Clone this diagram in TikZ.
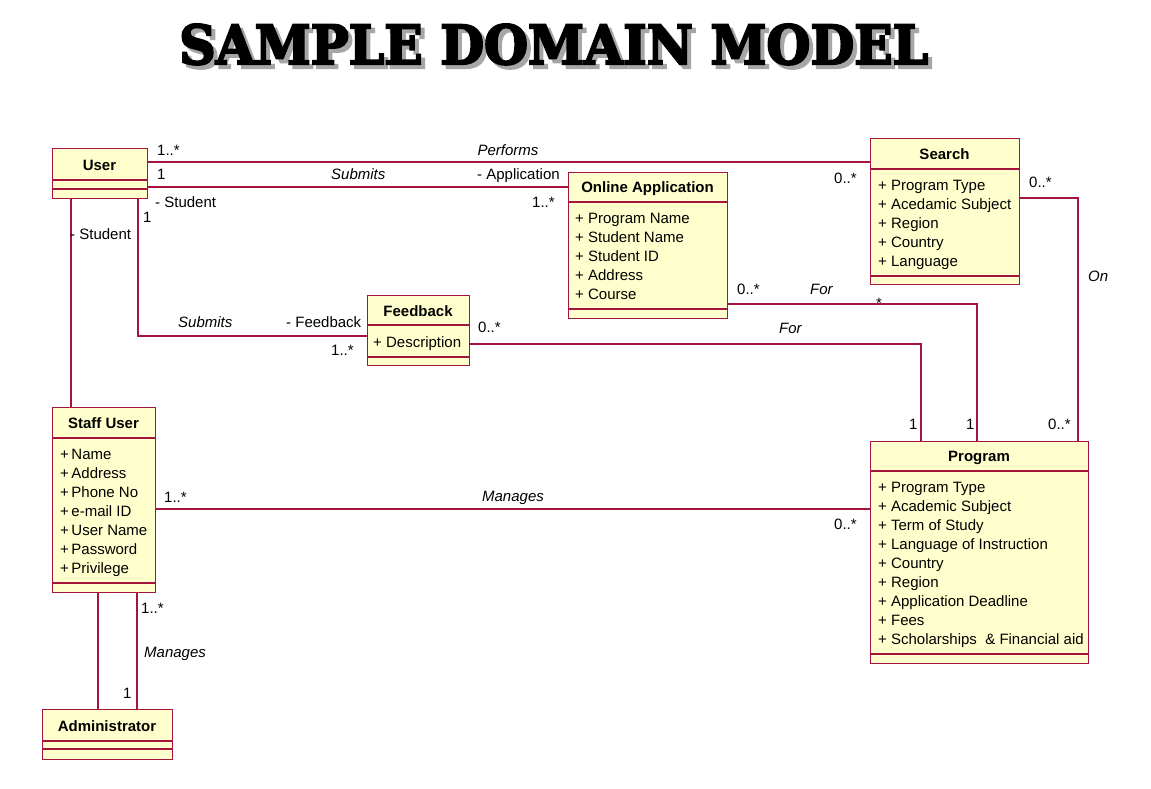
\documentclass[tikz,border=0pt]{standalone}
\usepackage{fontspec}
\usepackage{graphicx}
\setmainfont{Liberation Sans}
\newfontfamily\titlefont[BoldFeatures={FakeBold=4}]{DejaVu Serif}
\definecolor{umlline}{RGB}{165,20,60}
\definecolor{umlfill}{RGB}{255,255,206}
\begin{document}
\begin{tikzpicture}[x=1pt,y=-1pt,
  cbox/.style={draw=umlline, fill=umlfill, line width=1.3pt, inner sep=0pt, anchor=north west},
  sep/.style={draw=umlline, line width=1.1pt},
  conn/.style={draw=umlline, line width=1.1pt},
  txt/.style={font=\fontsize{15}{18}\selectfont, inner sep=0pt, anchor=base west},
  assoc/.style={font=\fontsize{15}{18}\selectfont\itshape, inner sep=0pt, anchor=base west},
  cname/.style={font=\fontsize{15}{18}\selectfont\bfseries, inner sep=0pt, anchor=base},
]
\fill[white] (0,0) rectangle (1151,789);
\useasboundingbox (0,0) rectangle (1151,789);

% title
\node[inner sep=0pt, anchor=south west, text=black!35] (titleshadow) at (183,69) {\resizebox{749pt}{40pt}{\titlefont\bfseries SAMPLE DOMAIN MODEL}};
\node[inner sep=0pt, anchor=south west] (title) at (179,65) {\resizebox{749pt}{40pt}{\titlefont\bfseries SAMPLE DOMAIN MODEL}};

% guide coordinates
\coordinate (gPerf) at (0,162);
\coordinate (gSubA) at (0,187);
\coordinate (gSubF) at (0,336);
\coordinate (gForF) at (0,344);
\coordinate (gForA) at (0,304);
\coordinate (gOn) at (0,198);
\coordinate (gMan) at (0,509);
\coordinate (xSubF) at (138,0);
\coordinate (xStu) at (71,0);
\coordinate (xForF) at (921,0);
\coordinate (xForA) at (977,0);
\coordinate (xOn) at (1078,0);
\coordinate (xAdm1) at (98,0);
\coordinate (xAdm2) at (137,0);

% classes
\node[cbox, minimum width=95, minimum height=50] (user) at (52,148) {};
\draw[sep] (user.west |- 0,180) -- (user.east |- 0,180);
\draw[sep] (user.west |- 0,189) -- (user.east |- 0,189);
\node[cname] (userN) at (99.5,170) {User};

\node[cbox, minimum width=159, minimum height=146] (oa) at (568,172) {};
\draw[sep] (oa.west |- 0,202) -- (oa.east |- 0,202);
\draw[sep] (oa.west |- 0,309) -- (oa.east |- 0,309);
\node[cname] (oaN) at (647.5,192) {Online Application};
\foreach \t [count=\i] in {+ Program Name,+ Student Name,+ Student ID,+ Address,+ Course}
  {\node[txt] (oa-a\i) at (575,{223+19*(\i-1)}) {\t};}

\node[cbox, minimum width=149, minimum height=146] (search) at (870,138) {};
\draw[sep] (search.west |- 0,169) -- (search.east |- 0,169);
\draw[sep] (search.west |- 0,276) -- (search.east |- 0,276);
\node[cname] (searchN) at (944.5,159) {Search};
\foreach \t [count=\i] in {+ Program Type,+ Acedamic Subject,+ Region,+ Country,+ Language}
  {\node[txt] (se-a\i) at (878,{190+19*(\i-1)}) {\t};}

\node[cbox, minimum width=102, minimum height=70] (fb) at (367,295) {};
\draw[sep] (fb.west |- 0,325) -- (fb.east |- 0,325);
\draw[sep] (fb.west |- 0,357) -- (fb.east |- 0,357);
\node[cname] (fbN) at (418,316) {Feedback};
\node[txt] (fb-a1) at (373,347) {+ Description};

\node[cbox, minimum width=103, minimum height=185] (staff) at (52,407) {};
\draw[sep] (staff.west |- 0,438) -- (staff.east |- 0,438);
\draw[sep] (staff.west |- 0,583) -- (staff.east |- 0,583);
\node[cname] (staffN) at (103.5,428) {Staff User};
\foreach \t [count=\i] in {Name,Address,Phone No,e-mail ID,User Name,Password,Privilege}
  {\node[txt] (st-a\i) at (60,{459+19*(\i-1)}) {+\hspace{2.5pt}\t};}

\node[cbox, minimum width=130, minimum height=50] (admin) at (42,709) {};
\draw[sep] (admin.west |- 0,741) -- (admin.east |- 0,741);
\draw[sep] (admin.west |- 0,749) -- (admin.east |- 0,749);
\node[cname] (adminN) at (107,731) {Administrator};

\node[cbox, minimum width=218, minimum height=222] (prog) at (870,441) {};
\draw[sep] (prog.west |- 0,471) -- (prog.east |- 0,471);
\draw[sep] (prog.west |- 0,654) -- (prog.east |- 0,654);
\node[cname] (progN) at (979,461) {Program};
\foreach \t [count=\i] in {+ Program Type,+ Academic Subject,+ Term of Study,+ Language of Instruction,+ Country,+ Region,+ Application Deadline,+ Fees,+ Scholarships~ \& Financial aid}
  {\node[txt] (pr-a\i) at (878,{492+19*(\i-1)}) {\t};}

% connectors
\draw[conn] (user.east |- gPerf) -- (search.west |- gPerf);
\draw[conn] (user.east |- gSubA) -- (oa.west |- gSubA);
\draw[conn] (user.south -| xSubF) |- (fb.west |- gSubF);
\draw[conn] (user.south -| xStu) -- (staff.north -| xStu);
\draw[conn] (fb.east |- gForF) -| (prog.north -| xForF);
\draw[conn] (oa.east |- gForA) -| (prog.north -| xForA);
\draw[conn] (search.east |- gOn) -| (prog.north -| xOn);
\draw[conn] (staff.east |- gMan) -- (prog.west |- gMan);
\draw[conn] (staff.south -| xAdm1) -- (admin.north -| xAdm1);
\draw[conn] (staff.south -| xAdm2) -- (admin.north -| xAdm2);

% labels: Performs
\node[txt] (l1a) at (157,156) {1..*};
\node[assoc, anchor=base] (l1b) at (508,155) {Performs};
\node[txt] (l1c) at (834,183) {0..*};
% Submits application
\node[txt] (l2a) at (157,179) {1};
\node[assoc] (l2b) at (331,179) {Submits};
\node[txt] (l2c) at (477,179) {- Application};
\node[txt] (l2d) at (155,207) {- Student};
\node[txt] (l2e) at (532,207) {1..*};
% Submits feedback
\node[txt] (l3a) at (143,222) {1};
\node[assoc] (l3b) at (178,327) {Submits};
\node[txt] (l3c) at (286,327) {- Feedback};
\node[txt] (l3d) at (331,355) {1..*};
% user - staff
\node[txt] (l4a) at (70,239) {- Student};
% feedback - program
\node[txt] (l5a) at (478,332) {0..*};
\node[assoc] (l5b) at (779,333) {For};
\node[txt] (l5c) at (909,429) {1};
% application - program
\node[txt] (l6a) at (737,294) {0..*};
\node[assoc] (l6b) at (810,294) {For};
\node[txt] (l6c) at (876,308) {*};
\node[txt] (l6d) at (966,429) {1};
% search - program
\node[txt] (l7a) at (1029,187) {0..*};
\node[assoc] (l7b) at (1088,281) {On};
\node[txt] (l7c) at (1048,429) {0..*};
% staff - program
\node[txt] (l8a) at (164,502) {1..*};
\node[assoc, anchor=base] (l8b) at (513,501) {Manages};
\node[txt] (l8c) at (834,529) {0..*};
% staff - admin
\node[txt] (l9a) at (141,613) {1..*};
\node[assoc] (l9b) at (144,657) {Manages};
\node[txt] (l9c) at (123,698) {1};
\end{tikzpicture}
\end{document}
